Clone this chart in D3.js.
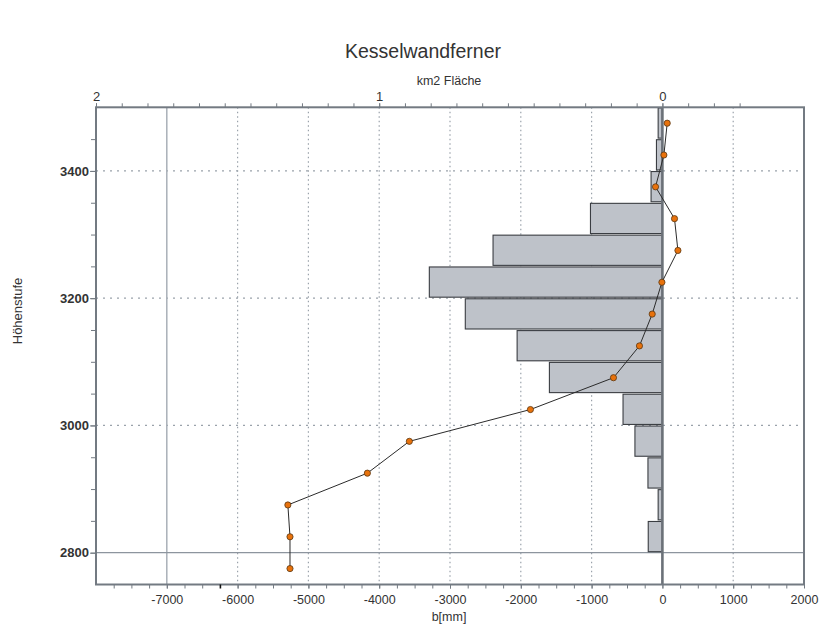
<!DOCTYPE html>
<html>
<head>
<meta charset="utf-8">
<script src="https://cdn.jsdelivr.net/npm/d3@7"></script>
<style>
  html, body { margin: 0; padding: 0; background: #fff; }
  svg { display: block; font-family: "Liberation Sans", Arial, sans-serif; }
</style>
</head>
<body>
<svg id="chart" width="823" height="637"></svg>
<script>
// Elevation bands (lower edge, m) and glacier area per band (km²)
const bandLow = [3450, 3400, 3350, 3300, 3250, 3200, 3150, 3100, 3050, 3000, 2950, 2900, 2850, 2800];
const bandArea = [0.015, 0.021, 0.04, 0.254, 0.598, 0.823, 0.696, 0.513, 0.399, 0.139, 0.097, 0.051, 0.015, 0.05];

// Specific mass balance b (mm w.e.) at band mid-elevations
const midElev = [3475, 3425, 3375, 3325, 3275, 3225, 3175, 3125, 3075, 3025, 2975, 2925, 2875, 2825, 2775];
const balance = [68, 21, -97, 171, 219, -7, -144, -324, -691, -1864, -3574, -4167, -5290, -5260, -5260];

// Axis ticks
const bTicks = [-7000, -6000, -5000, -4000, -3000, -2000, -1000, 0, 1000, 2000];
const bMinorStep = 250;
const areaTicks = [2, 1, 0];
const areaMinorStep = 1 / 11;
const elevTicks = [2800, 3000, 3200, 3400];
const elevMinorStep = 50;
const bandHeight = 50;

const W = 823, H = 637;
const L = 96, R = 804, T = 107.3, B = 584.5;

const svg = d3.select("#chart");
const x = d3.scaleLinear().domain([-8000, 2000]).range([L, R]);
const xArea = d3.scaleLinear().domain([2, -0.5]).range([L, R]);
const y = d3.scaleLinear().domain([2750, 3500]).range([B, T]);

const axisCol = "#737a82";
const gridCol = "#9aa2ab";
const plain = d => String(d);

// Dotted grid
const g = svg.append("g");
g.selectAll("line.vg").data(bTicks.filter(v => v !== -7000 && v !== 0 && v !== 2000))
  .join("line").attr("class", "vg")
  .attr("x1", d => x(d)).attr("x2", d => x(d)).attr("y1", T).attr("y2", B)
  .attr("stroke", gridCol).attr("stroke-width", 1.2).attr("stroke-dasharray", "1.5,3");
g.selectAll("line.hg").data(elevTicks.filter(v => v !== 2800))
  .join("line").attr("class", "hg")
  .attr("x1", L).attr("x2", R).attr("y1", d => y(d)).attr("y2", d => y(d))
  .attr("stroke", gridCol).attr("stroke-width", 1.2).attr("stroke-dasharray", "2,5");

// Reference lines
g.append("line").attr("x1", x(-7000)).attr("x2", x(-7000)).attr("y1", T).attr("y2", B)
  .attr("stroke", "#a9b0b8").attr("stroke-width", 1.5);
g.append("line").attr("x1", L).attr("x2", R).attr("y1", y(2800)).attr("y2", y(2800))
  .attr("stroke", "#8d959e").attr("stroke-width", 1.3);

// Area bars
svg.append("g").selectAll("rect").data(bandLow.map((lo, i) => ({ lo, a: bandArea[i] })))
  .join("rect")
  .attr("x", d => xArea(d.a))
  .attr("width", d => xArea(0) - xArea(d.a))
  .attr("y", d => y(d.lo + bandHeight) + 0.6)
  .attr("height", d => y(d.lo) - y(d.lo + bandHeight) - 1.6)
  .attr("fill", "#bec2c9").attr("stroke", "#3a3d42").attr("stroke-width", 1.1);

// Zero line
svg.append("line").attr("x1", x(0)).attr("x2", x(0)).attr("y1", T).attr("y2", B)
  .attr("stroke", "#6b7178").attr("stroke-width", 2.6);

// Balance profile
const pts = midElev.map((e, i) => ({ e, b: balance[i] }));
svg.append("path").datum(pts)
  .attr("d", d3.line().x(d => x(d.b)).y(d => y(d.e)))
  .attr("fill", "none").attr("stroke", "#2b2b2b").attr("stroke-width", 1);
svg.append("g").selectAll("circle").data(pts).join("circle")
  .attr("cx", d => x(d.b)).attr("cy", d => y(d.e)).attr("r", 3.1)
  .attr("fill", "#e8720c").attr("stroke", "#5b3713").attr("stroke-width", 0.8);

// Frame
svg.append("rect").attr("x", L).attr("y", T).attr("width", R - L).attr("height", B - T)
  .attr("fill", "none").attr("stroke", axisCol).attr("stroke-width", 2);

function styleAxis(sel) {
  sel.select(".domain").remove();
  sel.selectAll(".tick line").attr("stroke", axisCol).attr("stroke-width", 1);
}

// Bottom axis (b[mm])
const bMinor = d3.range(-8000 + bMinorStep, 2000, bMinorStep);
svg.append("g").attr("transform", `translate(0,${B})`)
  .call(d3.axisBottom(x).tickValues(bMinor).tickSize(4).tickFormat(""))
  .call(styleAxis)
  .call(s => s.selectAll(".tick").filter(d => d === -6250).select("line")
    .attr("stroke", "#111").attr("stroke-width", 1.6));
svg.append("g").attr("transform", `translate(0,${B})`)
  .call(d3.axisBottom(x).tickValues(bTicks).tickSize(4).tickPadding(7).tickFormat(plain))
  .call(styleAxis)
  .call(s => s.selectAll("text").attr("fill", "#333").attr("font-size", 12.5)
    .attr("font-family", "'Liberation Sans', Arial, sans-serif"));

// Top axis (km² area)
const aMinor = d3.range(0, 26).map(i => 2 - i * areaMinorStep).filter(v => v > -0.5);
svg.append("g").attr("transform", `translate(0,${T})`)
  .call(d3.axisTop(xArea).tickValues(aMinor).tickSize(4).tickFormat(""))
  .call(styleAxis);
svg.append("g").attr("transform", `translate(0,${T})`)
  .call(d3.axisTop(xArea).tickValues(areaTicks).tickSize(4).tickPadding(2).tickFormat(plain))
  .call(styleAxis)
  .call(s => s.selectAll("text").attr("fill", "#333").attr("font-size", 13)
    .attr("font-family", "'Liberation Sans', Arial, sans-serif"));

// Left axis (elevation)
const eMinor = d3.range(2750 + elevMinorStep, 3500, elevMinorStep);
svg.append("g").attr("transform", `translate(${L},0)`)
  .call(d3.axisLeft(y).tickValues(eMinor).tickSize(5).tickFormat(""))
  .call(styleAxis);
svg.append("g").attr("transform", `translate(${L},0)`)
  .call(d3.axisLeft(y).tickValues(elevTicks).tickSize(6).tickPadding(1).tickFormat(plain))
  .call(styleAxis)
  .call(s => s.selectAll("text").attr("fill", "#333").attr("font-size", 13).attr("font-weight", "bold")
    .attr("font-family", "'Liberation Sans', Arial, sans-serif"));

// Titles
svg.append("text").attr("x", 423).attr("y", 58).attr("text-anchor", "middle")
  .attr("font-size", 19.5).attr("fill", "#333").text("Kesselwandferner");
svg.append("text").attr("x", 449).attr("y", 85).attr("text-anchor", "middle")
  .attr("font-size", 12.5).attr("fill", "#333").text("km2 Fläche");
svg.append("text").attr("x", 449).attr("y", 621).attr("text-anchor", "middle")
  .attr("font-size", 12.5).attr("fill", "#333").text("b[mm]");
svg.append("text").attr("transform", "translate(22,311) rotate(-90)").attr("text-anchor", "middle")
  .attr("font-size", 13).attr("fill", "#333").text("Höhenstufe");
</script>
</body>
</html>
